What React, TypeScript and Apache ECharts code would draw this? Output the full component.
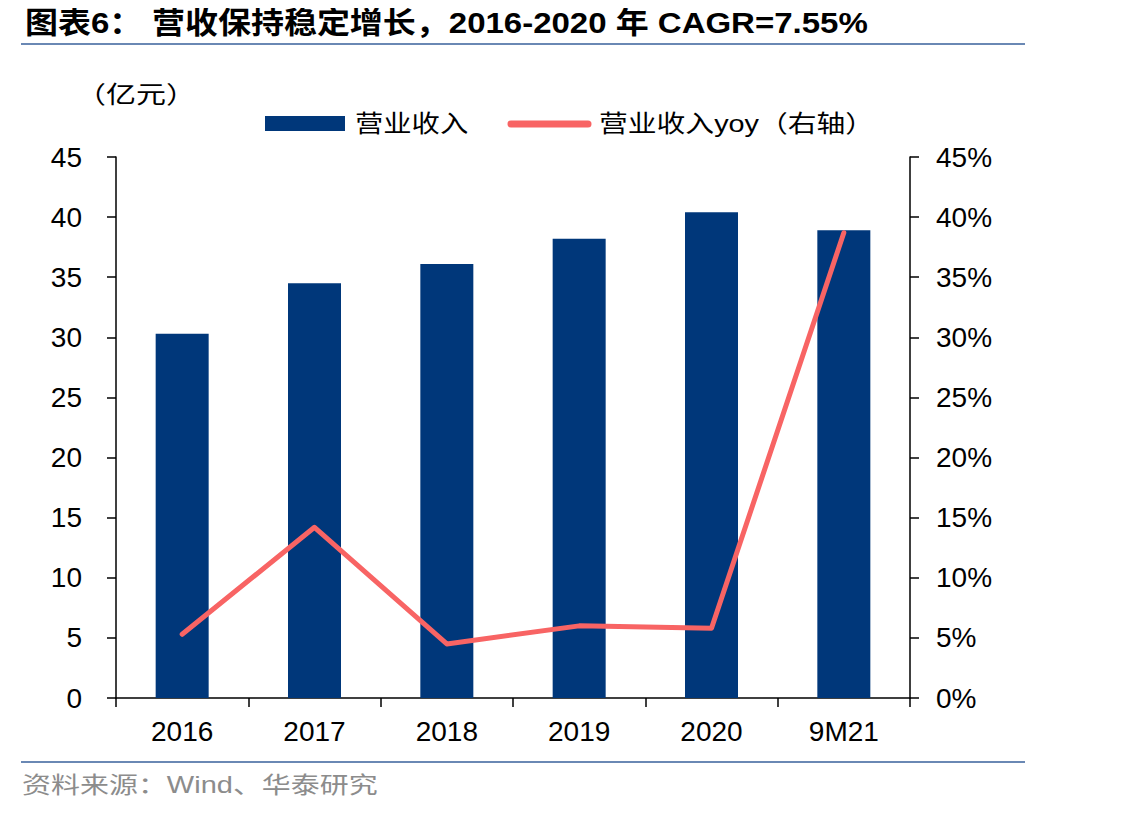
import React, { useEffect, useRef } from "react";
import * as echarts from "echarts";

const categories = ["2016", "2017", "2018", "2019", "2020", "9M21"];
const revenue = [30.3, 34.5, 36.1, 38.2, 40.4, 38.9];
const revenueYoy = [5.3, 14.2, 4.5, 6.0, 5.8, 38.7];
const leftTicks = [0, 45, 5];
const rightTicks = [0, 45, 5];

const FONT = '"Liberation Sans", Arial, "Noto Sans CJK SC", sans-serif';
const BAR_COLOR = "#00377a";
const LINE_COLOR = "#f86464";
const RULE_COLOR = "#6a88b4";

export default function App() {
  const ref = useRef<HTMLDivElement>(null);

  useEffect(() => {
    if (!ref.current) return;
    const chart = echarts.init(ref.current, undefined, { renderer: "svg" });

    const label = (text: string, x: number, y: number, size: number, sx: number, extra: any = {}) => ({
      type: "text",
      x,
      y,
      scaleX: sx,
      style: {
        text,
        fontSize: size,
        fill: "#000",
        fontFamily: FONT,
        verticalAlign: "middle",
        ...extra,
      },
    });

    chart.setOption({
      animation: false,
      backgroundColor: "#ffffff",
      textStyle: { fontFamily: FONT },
      graphic: [
        // heading
        label("图表6：", 25, 23, 30, 1.1, { fontWeight: "bold" }),
        label("营收保持稳定增长，2016-2020 年 CAGR=7.55%", 152, 23, 30, 1.1, { fontWeight: "bold" }),
        { type: "line", shape: { x1: 21, y1: 44, x2: 1025, y2: 44 }, style: { stroke: RULE_COLOR, lineWidth: 2 } },
        // unit
        label("（亿元）", 76, 95, 24, 1.25),
        // legend
        { type: "rect", shape: { x: 265, y: 116, width: 80, height: 15 }, style: { fill: BAR_COLOR } },
        label("营业收入", 355, 124, 24, 1.18),
        {
          type: "line",
          shape: { x1: 511, y1: 124, x2: 588, y2: 124 },
          style: { stroke: LINE_COLOR, lineWidth: 7, lineCap: "round" },
        },
        label("营业收入yoy（右轴）", 599, 124, 24, 1.2),
        // footer
        { type: "line", shape: { x1: 21, y1: 762, x2: 1025, y2: 762 }, style: { stroke: RULE_COLOR, lineWidth: 2 } },
        label("资料来源：Wind、华泰研究", 22, 785, 23, 1.26, { fill: "#8c8c8c" }),
      ],
      legend: { show: false, data: ["营业收入", "营业收入yoy（右轴）"] },
      grid: { left: 116, right: 229, top: 157, bottom: 118 },
      xAxis: {
        type: "category",
        data: categories,
        axisLine: { lineStyle: { color: "#000", width: 1.5 } },
        axisTick: { show: true, length: 9, lineStyle: { color: "#000", width: 1.5 } },
        axisLabel: { fontSize: 28, color: "#000", margin: 19, fontFamily: FONT },
      },
      yAxis: [
        {
          type: "value",
          min: leftTicks[0],
          max: leftTicks[1],
          interval: leftTicks[2],
          splitLine: { show: false },
          axisLine: { show: true, lineStyle: { color: "#000", width: 1.5 } },
          axisTick: { show: true, length: 9, lineStyle: { color: "#000", width: 1.5 } },
          axisLabel: { fontSize: 28, color: "#000", margin: 34, fontFamily: FONT },
        },
        {
          type: "value",
          min: rightTicks[0],
          max: rightTicks[1],
          interval: rightTicks[2],
          position: "right",
          splitLine: { show: false },
          axisLine: { show: true, lineStyle: { color: "#000", width: 1.5 } },
          axisTick: { show: true, length: 9, lineStyle: { color: "#000", width: 1.5 } },
          axisLabel: {
            fontSize: 28,
            color: "#000",
            margin: 26,
            formatter: "{value}%",
            fontFamily: FONT,
          },
        },
      ],
      series: [
        {
          name: "营业收入",
          type: "bar",
          data: revenue,
          barWidth: 53,
          itemStyle: { color: BAR_COLOR },
        },
        {
          name: "营业收入yoy（右轴）",
          type: "line",
          yAxisIndex: 1,
          data: revenueYoy,
          symbol: "none",
          lineStyle: { color: LINE_COLOR, width: 5, cap: "round", join: "round" },
          itemStyle: { color: LINE_COLOR },
        },
      ],
    });
    return () => chart.dispose();
  }, []);

  return <div ref={ref} style={{ width: 1139, height: 816, margin: -8 }} />;
}
